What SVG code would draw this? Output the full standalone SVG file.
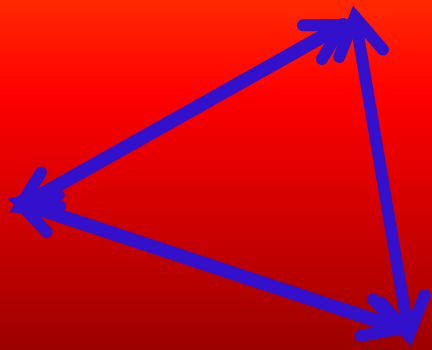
<svg xmlns="http://www.w3.org/2000/svg" width="432" height="350" viewBox="0 0 432 350">
  <defs>
    <linearGradient id="bg" x1="0" y1="0" x2="0" y2="1">
      <stop offset="0" stop-color="#ff2a00"/>
      <stop offset="0.27" stop-color="#ff0000"/>
      <stop offset="1" stop-color="#9c0000"/>
    </linearGradient>
    <style>
      .edge { fill: none; stroke: #3311cc; stroke-linecap: round; }
      .head { fill: none; stroke: #3311cc; stroke-width: 12; stroke-linecap: round; stroke-linejoin: miter; stroke-miterlimit: 10; }
    </style>
  </defs>
  <rect x="0" y="0" width="432" height="350" fill="url(#bg)"/>
  <g id="connectors">
    <g id="edge-left-top">
      <path class="edge" stroke-width="14" d="M20,206.5 L343,25"/>
      <path class="head" d="M303,25.2 L343,25 L322,59"/>
      <path class="head" d="M60,206.3 L20,206.5 L41,172.5"/>
    </g>
    <g id="edge-left-bottom">
      <path class="edge" stroke-width="13.5" d="M19.5,202.5 L400,328.5"/>
      <path class="head" d="M372.9,299.1 L400,328.5 L360.7,335.9"/>
      <path class="head" d="M46.6,231.9 L19.5,202.5 L58.8,195.1"/>
    </g>
    <g id="edge-top-bottom">
      <path class="edge" stroke-width="12" d="M355,17 L409,335"/>
      <path class="head" d="M424.7,295 L409,335 L381,302.4"/>
      <path class="head" d="M339.3,57 L355,17 L383,49.6"/>
    </g>
  </g>
</svg>
